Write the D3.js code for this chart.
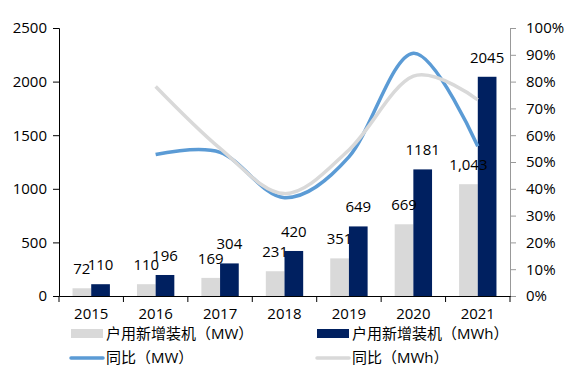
<!DOCTYPE html>
<html>
<head>
<meta charset="utf-8">
<script src="https://cdn.jsdelivr.net/npm/d3@7"></script>
<style>
  html, body { margin: 0; padding: 0; background: #fff; }
  text { font-family: "Open Sans", "Noto Sans CJK SC", sans-serif; fill: #000; }
</style>
</head>
<body>
<div id="chart"></div>
<script>
const years = ["2015", "2016", "2017", "2018", "2019", "2020", "2021"]
const installMW = [72, 110, 169, 231, 351, 669, 1043]
const installMWh = [110, 196, 304, 420, 649, 1181, 2045]
// YoY growth, 2016 onward
const yoyMW = [null, 0.528, 0.536, 0.367, 0.519, 0.906, 0.559]
const yoyMWh = [null, 0.782, 0.551, 0.382, 0.545, 0.820, 0.732]
const leftTicks = [0, 500, 1000, 1500, 2000, 2500]
const rightTicks = [0, 0.1, 0.2, 0.3, 0.4, 0.5, 0.6, 0.7, 0.8, 0.9, 1.0]

const W = 582, H = 371
const margin = { top: 28, right: 72, bottom: 75, left: 59 }
const width = W - margin.left - margin.right
const height = H - margin.top - margin.bottom

const navy = "#002060", lightGray = "#d9d9d9", blue = "#5b9bd5"

const svg = d3.select("#chart").append("svg")
    .attr("width", W).attr("height", H)

const g = svg.append("g").attr("transform", `translate(${margin.left},${margin.top})`)

const x = d3.scaleBand().domain(years).range([0, width])
const yL = d3.scaleLinear().domain([0, 2500]).range([height, 0])
const yR = d3.scaleLinear().domain([0, 1]).range([height, 0])
const barW = x.bandwidth() * 0.29

// axes
const leftAxis = g.append("g")
    .call(d3.axisLeft(yL).tickValues(leftTicks).tickFormat(d3.format("d")).tickSize(6).tickPadding(6))
leftAxis.select(".domain").attr("stroke", "#000")
leftAxis.selectAll("text").attr("font-size", "15px")

const rightAxis = g.append("g").attr("transform", `translate(${width},0)`)
    .call(d3.axisRight(yR).tickValues(rightTicks).tickFormat(d3.format(".0%")).tickSize(6).tickPadding(10))
rightAxis.selectAll(".domain, line").attr("stroke", "#999")
rightAxis.selectAll("text").attr("font-size", "15px")

const bottom = g.append("g").attr("transform", `translate(0,${height})`)
    .call(d3.axisBottom(x).tickSize(0).tickPadding(12))
bottom.select(".domain").attr("stroke", "#000")
bottom.selectAll("text").attr("font-size", "15px")
// ticks at band boundaries
bottom.selectAll(".sep").data(years.concat(["end"]))
    .enter().append("line")
    .attr("x1", (d, i) => i * x.step()).attr("x2", (d, i) => i * x.step())
    .attr("y1", 0).attr("y2", 6).attr("stroke", "#000")

// bars
const data = years.map((y, i) => ({ year: y, mw: installMW[i], mwh: installMWh[i], ymw: yoyMW[i], ymwh: yoyMWh[i] }))

g.selectAll(".bar-mw").data(data).enter().append("rect")
    .attr("x", d => x(d.year) + x.bandwidth() / 2 - barW)
    .attr("y", d => yL(d.mw))
    .attr("width", barW).attr("height", d => height - yL(d.mw))
    .attr("fill", lightGray)

g.selectAll(".bar-mwh").data(data).enter().append("rect")
    .attr("x", d => x(d.year) + x.bandwidth() / 2)
    .attr("y", d => yL(d.mwh))
    .attr("width", barW).attr("height", d => height - yL(d.mwh))
    .attr("fill", navy)

// lines
const line = accessor => d3.line()
    .x(d => x(d.year) + x.bandwidth() / 2)
    .y(d => yR(accessor(d)))
    .curve(d3.curveCatmullRom.alpha(0))

g.append("path").datum(data.filter(d => d.ymw != null))
    .attr("d", line(d => d.ymw))
    .attr("fill", "none").attr("stroke", blue).attr("stroke-width", 3.5)

g.append("path").datum(data.filter(d => d.ymwh != null))
    .attr("d", line(d => d.ymwh))
    .attr("fill", "none").attr("stroke", lightGray).attr("stroke-width", 3.5)

// labels
g.selectAll(".lbl-mw").data(data).enter().append("text")
    .attr("x", d => x(d.year) + x.bandwidth() / 2 - barW / 2)
    .attr("y", d => yL(d.mw) - 14)
    .attr("text-anchor", "middle").attr("font-size", "15px")
    .text(d => d.mw >= 1000 ? d3.format(",")(d.mw) : d.mw)

g.selectAll(".lbl-mwh").data(data).enter().append("text")
    .attr("x", d => x(d.year) + x.bandwidth() / 2 + barW / 2)
    .attr("y", d => yL(d.mwh) - 14)
    .attr("text-anchor", "middle").attr("font-size", "15px")
    .text(d => d.mwh)

// legend
const legend = svg.append("g")
const items = [
    { label: "户用新增装机（MW）", type: "rect", color: lightGray, x: 71, y: 334 },
    { label: "户用新增装机（MWh）", type: "rect", color: navy, x: 317, y: 334 },
    { label: "同比（MW）", type: "line", color: blue, x: 71, y: 358 },
    { label: "同比（MWh）", type: "line", color: lightGray, x: 317, y: 358 }
]
items.forEach(it => {
    if (it.type === "rect") {
        legend.append("rect").attr("x", it.x).attr("y", it.y - 5)
            .attr("width", 32).attr("height", 9).attr("fill", it.color)
    } else {
        legend.append("line").attr("x1", it.x).attr("x2", it.x + 32)
            .attr("y1", it.y).attr("y2", it.y)
            .attr("stroke", it.color).attr("stroke-width", 3.5).attr("stroke-linecap", "round")
    }
    legend.append("text").attr("x", it.x + 35).attr("y", it.y + 5)
        .attr("font-size", "15px").text(it.label)
})
</script>
</body>
</html>
